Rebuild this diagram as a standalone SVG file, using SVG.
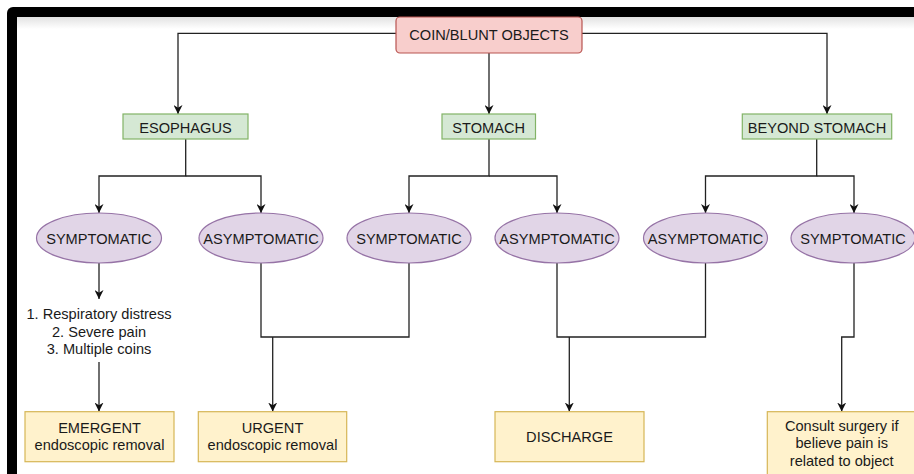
<svg xmlns="http://www.w3.org/2000/svg" width="914" height="474" viewBox="0 0 914 474">
<defs>
<linearGradient id="topg" x1="0" y1="0" x2="0" y2="1">
<stop offset="0" stop-color="#e2e2e2"/>
<stop offset="1" stop-color="#ffffff"/>
</linearGradient>
<marker id="arr" viewBox="0 0 10 10" refX="10" refY="5" markerWidth="9" markerHeight="9" markerUnits="userSpaceOnUse" orient="auto">
<path d="M0,0 L10,5 L0,10 L3,5 z" fill="#111"/>
</marker>
<style>
text{font-family:"Liberation Sans",Arial,Helvetica,sans-serif;font-size:14.6px;fill:#1a1a1a;text-anchor:middle}
.red{fill:#f8cecc;stroke:#b85450;stroke-width:1.2}
.green{fill:#d5e8d4;stroke:#82b366;stroke-width:1.2}
.purple{fill:#e1d5e7;stroke:#9673a6;stroke-width:1.2}
.yellow{fill:#fff2cc;stroke:#d6b656;stroke-width:1.2}
.c{fill:none;stroke:#222;stroke-width:1.3}
.a{marker-end:url(#arr)}
</style>
</defs>
<rect x="0" y="0" width="914" height="474" fill="#ffffff"/>
<g id="frame">
<rect x="7" y="7" width="930" height="490" rx="6" fill="#000"/>
<rect x="17" y="17" width="920" height="480" fill="#fff"/>
<rect x="17" y="17" width="920" height="12" fill="url(#topg)"/>
</g>
<g id="connectors">
<path class="c a" d="M396,33.3 H178 V114"/>
<path class="c a" d="M489,53 V114"/>
<path class="c a" d="M582,33.3 H827 V114"/>
<path class="c a" d="M185.7,139 V176 H99 V213"/>
<path class="c a" d="M185.7,176 H261 V213"/>
<path class="c a" d="M489,139 V176 H409 V213"/>
<path class="c a" d="M489,176 H557 V213"/>
<path class="c a" d="M816.7,139 V176 H705.5 V213"/>
<path class="c a" d="M816.7,176 H854 V213"/>
<path class="c a" d="M99,263 V299"/>
<path class="c a" d="M99,362 V411.5"/>
<path class="c" d="M261,263 V337 H409 V263"/>
<path class="c a" d="M272.7,337 V411.5"/>
<path class="c" d="M557,263 V337 H705.5 V263"/>
<path class="c a" d="M569.3,337 V411.5"/>
<path class="c a" d="M854,263 V337 H841.7 V411.5"/>
</g>
<g id="root">
<rect class="red" x="396" y="17" width="186" height="36" rx="4"/>
<text x="489" y="39.5">COIN/BLUNT OBJECTS</text>
</g>
<g id="esophagus">
<rect class="green" x="123" y="114" width="125" height="25"/>
<text x="185.5" y="132.5">ESOPHAGUS</text>
</g>
<g id="stomach">
<rect class="green" x="442" y="114" width="93.5" height="25"/>
<text x="488.7" y="132.5">STOMACH</text>
</g>
<g id="beyond">
<rect class="green" x="742.3" y="114" width="149.4" height="25"/>
<text x="817" y="132.5">BEYOND STOMACH</text>
</g>
<g id="esoph-sym">
<ellipse class="purple" cx="99" cy="238" rx="62.5" ry="25"/>
<text x="99" y="244">SYMPTOMATIC</text>
</g>
<g id="esoph-asym">
<ellipse class="purple" cx="261" cy="238" rx="62" ry="25"/>
<text x="261" y="244">ASYMPTOMATIC</text>
</g>
<g id="stomach-sym">
<ellipse class="purple" cx="409" cy="238" rx="62" ry="25"/>
<text x="409" y="244">SYMPTOMATIC</text>
</g>
<g id="stomach-asym">
<ellipse class="purple" cx="557" cy="238" rx="62" ry="25"/>
<text x="557" y="244">ASYMPTOMATIC</text>
</g>
<g id="beyond-asym">
<ellipse class="purple" cx="705.5" cy="238" rx="62" ry="25"/>
<text x="705.5" y="244">ASYMPTOMATIC</text>
</g>
<g id="beyond-sym">
<ellipse class="purple" cx="853" cy="238" rx="62" ry="25"/>
<text x="853" y="244">SYMPTOMATIC</text>
</g>
<g id="criteria">
<text x="99" y="319.3">1. Respiratory distress</text>
<text x="99" y="336.5">2. Severe pain</text>
<text x="99" y="354">3. Multiple coins</text>
</g>
<g id="emergent">
<rect class="yellow" x="25" y="411.7" width="149" height="50"/>
<text x="99.5" y="432.7">EMERGENT</text>
<text x="99.5" y="450">endoscopic removal</text>
</g>
<g id="urgent">
<rect class="yellow" x="198.3" y="411.7" width="148.4" height="50"/>
<text x="272.5" y="432.7">URGENT</text>
<text x="272.5" y="450">endoscopic removal</text>
</g>
<g id="discharge">
<rect class="yellow" x="495" y="411.7" width="149" height="50"/>
<text x="569.5" y="441.7">DISCHARGE</text>
</g>
<g id="consult">
<rect class="yellow" x="767.3" y="411.7" width="149" height="64"/>
<text x="841.7" y="430.7">Consult surgery if</text>
<text x="841.7" y="448.2">believe pain is</text>
<text x="841.7" y="465.7">related to object</text>
</g>
</svg>
